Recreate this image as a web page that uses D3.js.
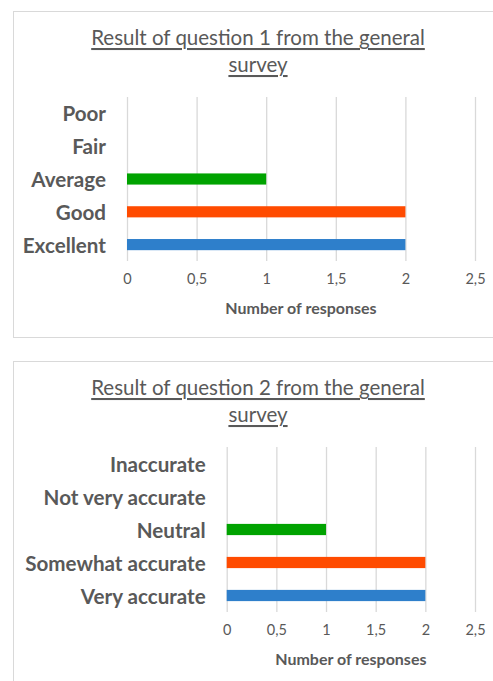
<!DOCTYPE html>
<html>
<head>
<meta charset="utf-8">
<script src="https://cdn.jsdelivr.net/npm/d3@7"></script>
<style>
  html, body { margin: 0; padding: 0; background: #ffffff; }
  svg { display: block; }
</style>
</head>
<body>
<svg id="chart" width="493" height="681"></svg>
<script>
// ---- data ----
const tickValues = [0, 0.5, 1, 1.5, 2, 2.5];
const tickLabels = ["0", "0,5", "1", "1,5", "2", "2,5"];
const q1Title = ["Result of question 1 from the general", "survey"];
const q1Categories = ["Excellent", "Good", "Average", "Fair", "Poor"];
const q1Values = [2, 2, 1, 0, 0];
const q2Title = ["Result of question 2 from the general", "survey"];
const q2Categories = ["Very accurate", "Somewhat accurate", "Neutral", "Not very accurate", "Inaccurate"];
const q2Values = [2, 2, 1, 0, 0];
const barColors = ["#2e7fcb", "#ff4b00", "#00a300", "#a5a5a5", "#ffc000"];
const axisTitle = "Number of responses";

// ---- drawing ----
const svg = d3.select("#chart");
const FONT = "Lato, 'Open Sans', sans-serif";
const TEXT = "#595959";

function drawChart(opts) {
  const g = svg.append("g");
  // frame
  g.append("rect")
    .attr("x", opts.box[0] + 0.5).attr("y", opts.box[1] + 0.5)
    .attr("width", opts.box[2]).attr("height", opts.box[3])
    .attr("fill", "#fff").attr("stroke", "#d9d9d9").attr("stroke-width", 1);

  // title
  opts.title.forEach((line, i) => {
    g.append("text")
      .attr("x", opts.titleX).attr("y", opts.titleY + i * 27)
      .attr("text-anchor", "middle")
      .attr("dominant-baseline", "central")
      .attr("font-family", FONT).attr("font-size", 20.5)
      .attr("fill", TEXT)
      .style("text-decoration", "underline")
      .text(line);
  });

  const x = d3.scaleLinear().domain([0, 2.5]).range([opts.x0, opts.x1]);
  const y = d3.scaleBand()
    .domain(opts.categories.slice().reverse())
    .range([opts.y0, opts.y1])
    .paddingInner(0.66).paddingOuter(0.33);

  // gridlines
  const grid = g.append("g")
    .attr("transform", `translate(0,${opts.y1})`)
    .call(d3.axisBottom(x).tickValues(tickValues).tickSize(-(opts.y1 - opts.y0)).tickFormat(""));
  grid.select(".domain").remove();
  grid.selectAll("line").attr("stroke", "#d9d9d9").attr("stroke-width", 1.3);

  // tick labels
  const ax = g.append("g")
    .attr("transform", `translate(0,${opts.y1})`)
    .call(d3.axisBottom(x).tickValues(tickValues).tickSize(0).tickPadding(13)
      .tickFormat((d, i) => tickLabels[i]));
  ax.select(".domain").remove();
  ax.selectAll("text").attr("font-family", FONT).attr("font-size", 14.5).attr("fill", TEXT);

  // bars
  g.selectAll("rect.bar")
    .data(opts.categories.map((c, i) => ({ c, v: opts.values[i], color: barColors[i] })))
    .join("rect")
    .attr("class", "bar")
    .attr("x", x(0))
    .attr("y", d => y(d.c))
    .attr("width", d => x(d.v) - x(0))
    .attr("height", y.bandwidth())
    .attr("fill", d => d.color);

  // category labels
  g.selectAll("text.cat")
    .data(opts.categories)
    .join("text")
    .attr("class", "cat")
    .attr("x", opts.x0 - 21)
    .attr("y", d => y(d) + y.bandwidth() / 2)
    .attr("text-anchor", "end")
    .attr("dominant-baseline", "central")
    .attr("font-family", FONT).attr("font-weight", "bold").attr("font-size", 20.6)
    .attr("fill", TEXT)
    .text(d => d);

  // axis title
  g.append("text")
    .attr("x", (opts.x0 + opts.x1) / 2)
    .attr("y", opts.y1 + 46)
    .attr("text-anchor", "middle")
    .attr("dominant-baseline", "central")
    .attr("font-family", FONT).attr("font-weight", "bold").attr("font-size", 16)
    .attr("fill", TEXT)
    .text(axisTitle);
}

drawChart({
  box: [13, 11, 500, 326],
  title: q1Title, titleX: 258, titleY: 37,
  categories: q1Categories, values: q1Values,
  x0: 127, x1: 475, y0: 97, y1: 261
});

drawChart({
  box: [13, 361, 500, 340],
  title: q2Title, titleX: 258, titleY: 387,
  categories: q2Categories, values: q2Values,
  x0: 226.7, x1: 475, y0: 447, y1: 612
});
</script>
</body>
</html>
